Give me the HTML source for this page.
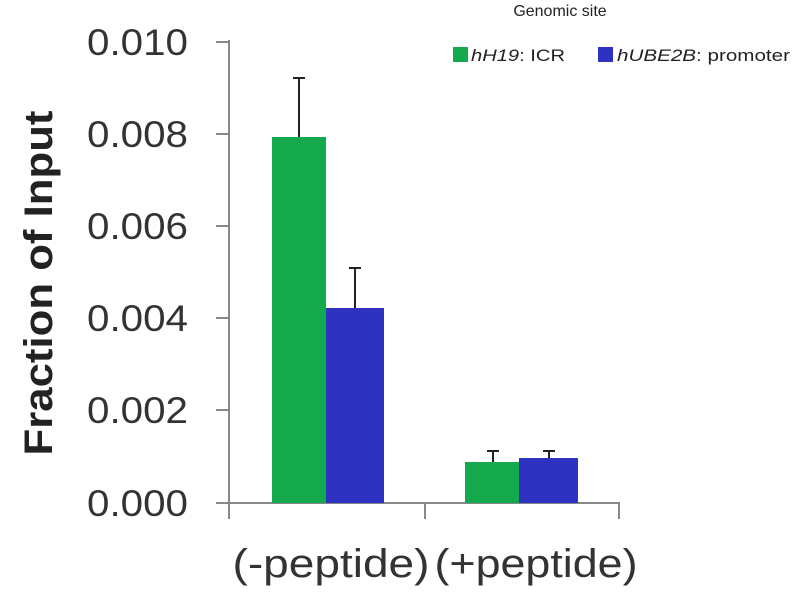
<!DOCTYPE html>
<html><head><style>body{margin:0;background:#fff}svg{display:block}</style></head><body>
<svg width="800" height="600" xmlns="http://www.w3.org/2000/svg" font-family="Liberation Sans, sans-serif">
<rect width="800" height="600" fill="#fff"/>
<g stroke="#888" stroke-width="2">
<line x1="229" y1="40" x2="229" y2="519"/>
<line x1="216" y1="503" x2="620" y2="503"/>
<line x1="216" y1="42" x2="229" y2="42"/>
<line x1="216" y1="134" x2="229" y2="134"/>
<line x1="216" y1="226" x2="229" y2="226"/>
<line x1="216" y1="318" x2="229" y2="318"/>
<line x1="216" y1="410" x2="229" y2="410"/>
<line x1="425" y1="503" x2="425" y2="519"/>
<line x1="619" y1="503" x2="619" y2="519"/>
</g>
<g stroke="#222" stroke-width="2">
<line x1="299" y1="78" x2="299" y2="137"/><line x1="293" y1="78" x2="305" y2="78"/>
<line x1="355" y1="268" x2="355" y2="308"/><line x1="349" y1="268" x2="361" y2="268"/>
<line x1="493" y1="451" x2="493" y2="462"/><line x1="487" y1="451" x2="499" y2="451"/>
<line x1="549" y1="451" x2="549" y2="458"/><line x1="543" y1="451" x2="555" y2="451"/>
</g>
<rect x="272" y="137" width="54" height="366" fill="#14a94c"/>
<rect x="326" y="308" width="58" height="195" fill="#2f32c0"/>
<rect x="465" y="462" width="54" height="41" fill="#14a94c"/>
<rect x="519" y="458" width="59" height="45" fill="#2f32c0"/>
<g font-size="37" fill="#333" text-anchor="end">
<text x="188" y="55" textLength="101" lengthAdjust="spacingAndGlyphs">0.010</text>
<text x="188" y="147" textLength="101" lengthAdjust="spacingAndGlyphs">0.008</text>
<text x="188" y="239" textLength="101" lengthAdjust="spacingAndGlyphs">0.006</text>
<text x="188" y="331" textLength="101" lengthAdjust="spacingAndGlyphs">0.004</text>
<text x="188" y="423" textLength="101" lengthAdjust="spacingAndGlyphs">0.002</text>
<text x="188" y="516" textLength="101" lengthAdjust="spacingAndGlyphs">0.000</text>
</g>
<text transform="translate(52,283) rotate(-90)" text-anchor="middle" font-size="40" font-weight="bold" fill="#222" textLength="345" lengthAdjust="spacingAndGlyphs">Fraction  of  Input</text>
<text x="331" y="577" text-anchor="middle" font-size="40" fill="#333" textLength="197" lengthAdjust="spacingAndGlyphs">(-peptide)</text>
<text x="536" y="577" text-anchor="middle" font-size="40" fill="#333" textLength="203" lengthAdjust="spacingAndGlyphs">(+peptide)</text>
<text x="560" y="16" text-anchor="middle" font-size="16" fill="#222">Genomic site</text>
<rect x="453" y="47" width="15" height="15" fill="#14a94c"/>
<text x="471" y="61" font-size="17" fill="#222" textLength="94" lengthAdjust="spacingAndGlyphs"><tspan font-style="italic">hH19</tspan>: ICR</text>
<rect x="598" y="47" width="15" height="15" fill="#2f32c0"/>
<text x="617" y="61" font-size="17" fill="#222" textLength="173" lengthAdjust="spacingAndGlyphs"><tspan font-style="italic">hUBE2B</tspan>: promoter</text>
</svg>
</body></html>
